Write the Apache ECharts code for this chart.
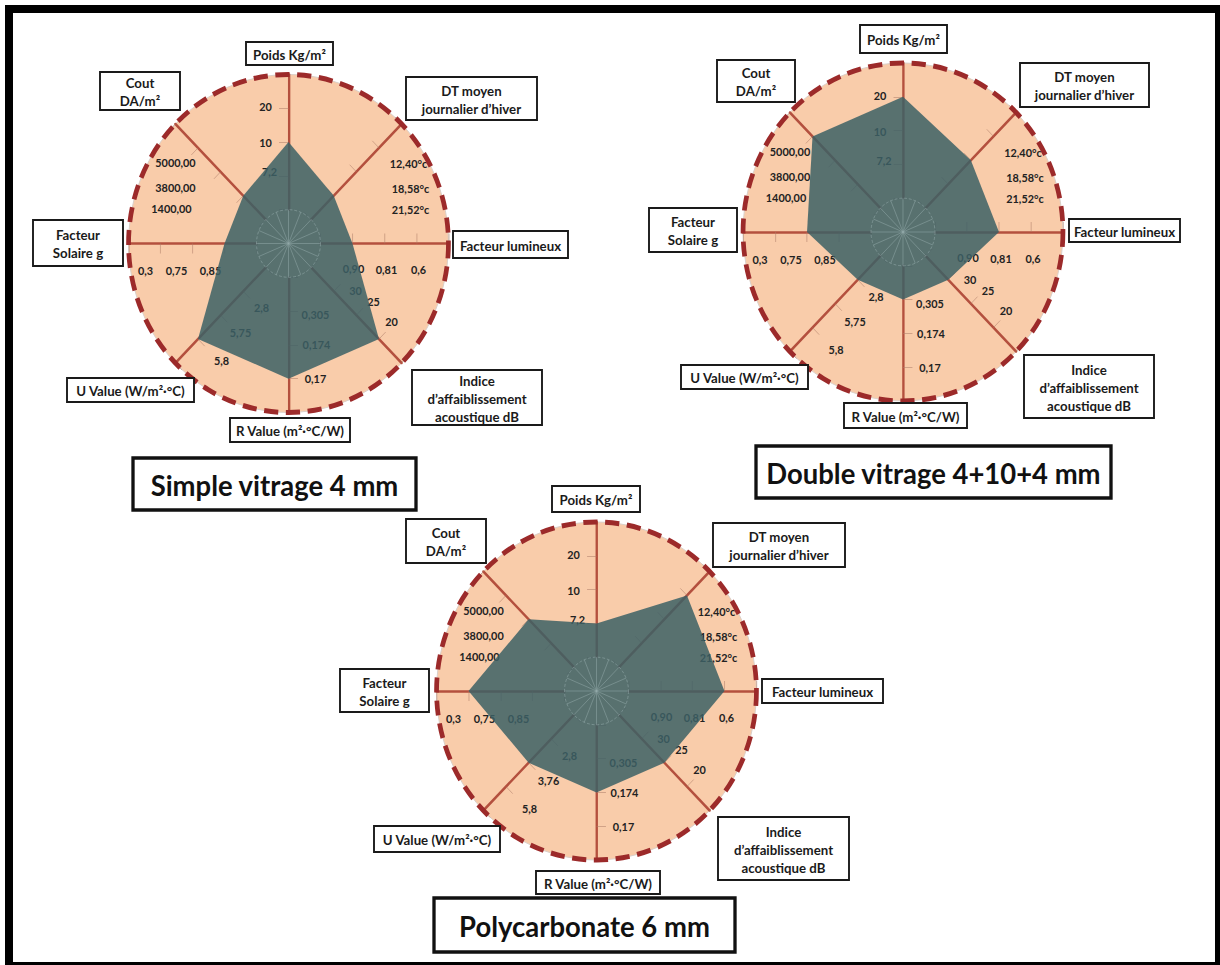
<!DOCTYPE html>
<html>
<head>
<meta charset="utf-8">
<script src="https://cdn.jsdelivr.net/npm/echarts@6/dist/echarts.min.js"></script>
<style>
html,body{margin:0;padding:0;background:#fff;overflow:hidden;width:1220px;height:965px}
#chart{position:absolute;left:0;top:0;width:1289px;height:965px;transform:scaleX(0.946470);transform-origin:0 0}
</style>
</head>
<body>
<div id="chart"></div>
<script>
// ---------- DATA ----------
// axes, counter-clockwise starting at the top
const indicatorNames = [
  'Poids Kg/m²',
  'Cout\nDA/m²',
  'Facteur\nSolaire g',
  'U Value (W/m²·°C)',
  'R Value (m²·°C/W)',
  'Indice\nd’affaiblissement\nacoustique dB',
  'Facteur lumineux',
  'DT moyen\njournalier d’hiver'
];
const levelMin = 1;
const levelMax = 5;

const chartTitles = ['Simple vitrage 4 mm', 'Double vitrage 4+10+4 mm', 'Polycarbonate 6 mm'];

// rank level (2, 3 or 4) reached on each axis
const simpleVitrage = [3, 2, 2, 4, 4, 4, 2, 2];
const doubleVitrage = [4, 4, 3, 2, 2, 2, 3, 3];
const polycarbonate = [2, 3, 4, 3, 3, 3, 4, 4];

// tick labels for levels 2, 3, 4 of each axis
const poidsTicks = ['7,2', '10', '20'];
const coutTicks = ['1400,00', '3800,00', '5000,00'];
const solaireTicks = ['0,85', '0,75', '0,3'];
const uTicks = ['2,8', '5,75', '5,8'];
const uTicksPoly = ['2,8', '3,76', '5,8'];
const rTicks = ['0,305', '0,174', '0,17'];
const indiceTicks = ['30', '25', '20'];
const lumineuxTicks = ['0,90', '0,81', '0,6'];
const dtTicks = ['21,52°c', '18,58°c', '12,40°c'];

const seriesValues = [simpleVitrage, doubleVitrage, polycarbonate];
const tickSets = [
  [poidsTicks, coutTicks, solaireTicks, uTicks, rTicks, indiceTicks, lumineuxTicks, dtTicks],
  [poidsTicks, coutTicks, solaireTicks, uTicks, rTicks, indiceTicks, lumineuxTicks, dtTicks],
  [poidsTicks, coutTicks, solaireTicks, uTicksPoly, rTicks, indiceTicks, lumineuxTicks, dtTicks]
];

// ---------- LAYOUT (page pixels) ----------
const SX = 1220 / 1289;
const R = 169, R0 = R * 0.2;
const layouts = [
  { cx: 288.5, cy: 243.5, title: [133, 458, 283, 52],
    boxes: [[246,42,87,23],[100,72,80,38],[33,220,90,46],[67,378,127,24],[230,418,120,24],[412,370,130,55],[453,231,115,27],[406,77,131,43]] },
  { cx: 903, cy: 232, title: [756, 446, 355, 52],
    boxes: [[860,25,87,28],[717,60,78,42],[649,208,88,44],[681,365,127,24],[844,403,123,25],[1024,355,130,63],[1069,219,111,23],[1020,63,129,44]] },
  { cx: 596.5, cy: 691, title: [434, 898, 301, 54],
    boxes: [[552,486,88,26],[406,519,80,44],[340,669,89,43],[374,826,126,26],[536,871,124,23],[718,817,131,63],[762,679,121,24],[713,523,132,44]] }
];
// tick label offsets from centre (page px), per axis, levels 2,3,4
const tickOffsets = [
  [[-19,-72],[-23,-101],[-23,-137]],
  [[-117,-35],[-113,-56],[-113,-81]],
  [[-78,27],[-112,27],[-143,27]],
  [[-27,64],[-48,89],[-67,117]],
  [[27,71],[28,101],[27,135]],
  [[67,47],[85,58],[103,78]],
  [[65,25],[98,26],[130,26]],
  [[122,-34],[122,-55],[120,-80]]
];

const FONT = 'Lato, "Open Sans", sans-serif';
const X = v => v / SX;

// ---------- GRAPHIC DECORATION ----------
const g = [];
// frame
g.push({ type: 'rect', z: 0, shape: { x: X(5), y: 5, width: X(1230), height: 970 }, style: { fill: '#000' } });
g.push({ type: 'rect', z: 0, shape: { x: X(13), y: 13, width: X(1202), height: 949 }, style: { fill: '#fff' } });

layouts.forEach((L, ci) => {
  const cx = X(L.cx), cy = L.cy;
  // peach disc
  g.push({ type: 'circle', z: 1, shape: { cx, cy, r: R }, style: { fill: '#F9CCAA', stroke: '#d9cfc8', lineWidth: 1 } });
  // tick labels (below the polygon)
  tickSets[ci].forEach((ticks, ai) => {
    ticks.forEach((t, li) => {
      const o = tickOffsets[ai][li];
      g.push({ type: 'text', z: 3, style: { text: t, x: cx + X(o[0]), y: cy + o[1], align: 'center', verticalAlign: 'middle',
        font: 'bold 11.5px ' + FONT, fill: '#222' } });
    });
  });
  // hub
  for (let k = 0; k < 16; k++) {
    const a = k * Math.PI / 8;
    g.push({ type: 'line', z: 5, shape: { x1: cx, y1: cy, x2: cx + R0 * Math.cos(a), y2: cy - R0 * Math.sin(a) },
      style: { stroke: 'rgba(150,172,172,0.5)', lineWidth: 1 } });
  }
  g.push({ type: 'circle', z: 5, shape: { cx, cy, r: R0 }, style: { fill: null, stroke: 'rgba(150,172,172,0.55)', lineWidth: 1, lineDash: [3, 2] } });
  // dashed ring
  g.push({ type: 'circle', z: 6, shape: { cx, cy, r: R }, style: { fill: null, stroke: '#9C2A2A', lineWidth: 5, lineDash: [15, 8] } });
  // axis name boxes
  L.boxes.forEach((b, ai) => {
    g.push({ type: 'rect', z: 7, shape: { x: X(b[0]), y: b[1], width: X(b[2]), height: b[3] },
      style: { fill: '#fff', stroke: '#1a1a1a', lineWidth: 2 } });
    g.push({ type: 'text', z: 8, style: { text: indicatorNames[ai], x: X(b[0] + b[2] / 2), y: b[1] + b[3] / 2 + 1,
      align: 'center', verticalAlign: 'middle', font: 'bold 14px ' + FONT, lineHeight: 18, fill: '#1a1a1a' } });
  });
  // title
  const t = L.title;
  g.push({ type: 'rect', z: 7, shape: { x: X(t[0]), y: t[1], width: X(t[2]), height: t[3] },
    style: { fill: '#fff', stroke: '#111', lineWidth: 3.5 } });
  g.push({ type: 'text', z: 8, style: { text: chartTitles[ci], x: X(t[0] + t[2] / 2), y: t[1] + t[3] / 2 + 1,
    align: 'center', verticalAlign: 'middle', font: 'bold 29px ' + FONT, fill: '#111' } });
});

// ---------- CHART ----------
const chart = echarts.init(document.getElementById('chart'), null, { renderer: 'svg' });
chart.setOption({
  animation: false,
  backgroundColor: 'transparent',
  radar: layouts.map(L => ({
    center: [X(L.cx), L.cy],
    radius: [R0, R],
    startAngle: 90,
    splitNumber: 4,
    shape: 'circle',
    z: 2,
    indicator: indicatorNames.map(n => ({ name: n, min: levelMin, max: levelMax })),
    axisName: { show: false },
    axisLine: { lineStyle: { color: '#B4503E', width: 2.5 } },
    axisTick: { show: true, length: 10, lineStyle: { color: 'rgba(175,125,105,0.55)', width: 1 } },
    axisLabel: { show: false },
    splitLine: { show: false },
    splitArea: { show: false }
  })),
  series: seriesValues.map((vals, i) => ({
    type: 'radar',
    radarIndex: i,
    name: chartTitles[i],
    z: 4,
    silent: true,
    symbol: 'none',
    lineStyle: { opacity: 0 },
    areaStyle: { color: 'rgb(60,96,101)', opacity: 0.85 },
    data: [{ value: vals, name: chartTitles[i] }]
  })),
  graphic: { elements: g }
});
</script>
</body>
</html>
